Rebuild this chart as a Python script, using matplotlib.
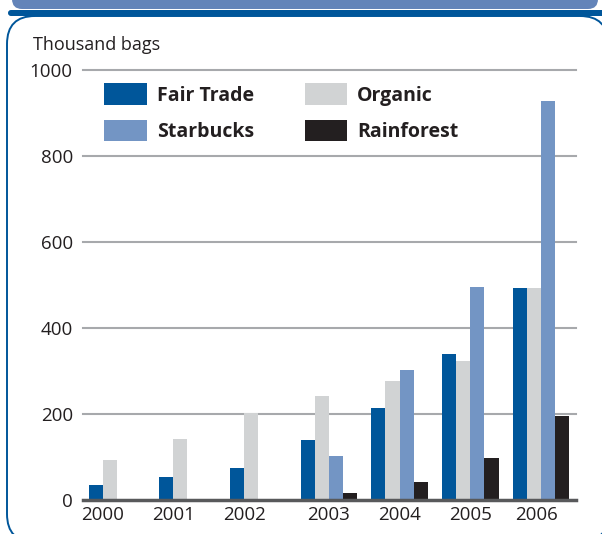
import matplotlib.pyplot as plt
from matplotlib.patches import FancyBboxPatch
import numpy as np

years = ["2000", "2001", "2002", "2003", "2004", "2005", "2006"]
fair_trade = [36, 54, 75, 139, 214, 339, 492]
organic = [94, 142, 202, 243, 277, 324, 492]
starbucks = [0, 0, 0, 102, 302, 496, 929]
rainforest = [0, 0, 0, 17, 42, 98, 196]
series = [
    ("Fair Trade", fair_trade, "#00569a"),
    ("Organic", organic, "#d1d3d4"),
    ("Starbucks", starbucks, "#7395c4"),
    ("Rainforest", rainforest, "#231f20"),
]
yticks = [0, 200, 400, 600, 800, 1000]
# years with only two bars get their label under those two
label_shift = [-0.2, -0.2, -0.2, 0, 0, 0, -0.07]

plt.rcParams["font.family"] = ["Open Sans", "DejaVu Sans"]
TXT = "#231f20"
W, H = 602, 534

fig = plt.figure(figsize=(W / 100, H / 100), dpi=100)

# frame drawn in pixel coordinates
bg = fig.add_axes([0, 0, 1, 1], zorder=0)
bg.set_xlim(0, W)
bg.set_ylim(H, 0)
bg.axis("off")
bg.add_patch(FancyBboxPatch((12, -20), 586, 29, boxstyle="round,pad=0,rounding_size=10",
                            fc="#6384b9", ec="none"))
bg.add_patch(FancyBboxPatch((7, 16), 601, 526, boxstyle="round,pad=0,rounding_size=28",
                            fc="white", ec="#00569a", lw=1.4))
bg.add_patch(FancyBboxPatch((8, 10), 600, 6, boxstyle="round,pad=0,rounding_size=3",
                            fc="#00569a", ec="none"))
bg.text(33, 50, "Thousand bags", fontsize=13, color=TXT, va="baseline")

ax = fig.add_axes([82.5 / W, 1 - 500 / H, (576 - 82.5) / W, 430 / H], zorder=1)
ax.patch.set_alpha(0)
x = np.arange(len(years))
w = 0.2
for i, (name, vals, col) in enumerate(series):
    ax.bar(x - 0.3 + i * w, vals, w, color=col, label=name, zorder=2)

ax.set_xlim(-0.485, 6.495)
ax.set_ylim(0, 1000)
for v in yticks:
    if v == 0:
        ax.axhline(v, color="#58595b", lw=2.5, zorder=3, clip_on=False)
    else:
        ax.axhline(v, color="#a7a9ac", lw=1.5, zorder=1, clip_on=False)
ax.set_yticks(yticks)
ax.set_xticks(x + np.array(label_shift))
ax.set_xticklabels(years)
ax.tick_params(length=0, labelsize=13.5, labelcolor=TXT)
ax.tick_params(axis="y", pad=7)
ax.tick_params(axis="x", pad=4)
for s in ax.spines.values():
    s.set_visible(False)

h, l = ax.get_legend_handles_labels()
order = [0, 2, 1, 3]
leg = ax.legend([h[k] for k in order], [l[k] for k in order], ncol=2,
                loc="upper left", bbox_to_anchor=(0.009, 1.01), frameon=False,
                prop={"weight": "bold", "size": 14}, handlelength=2.2,
                handleheight=1.35, handletextpad=0.5, columnspacing=2.6,
                labelspacing=0.72, labelcolor=TXT, borderpad=0.4)

fig.savefig("out.png", dpi=100)
